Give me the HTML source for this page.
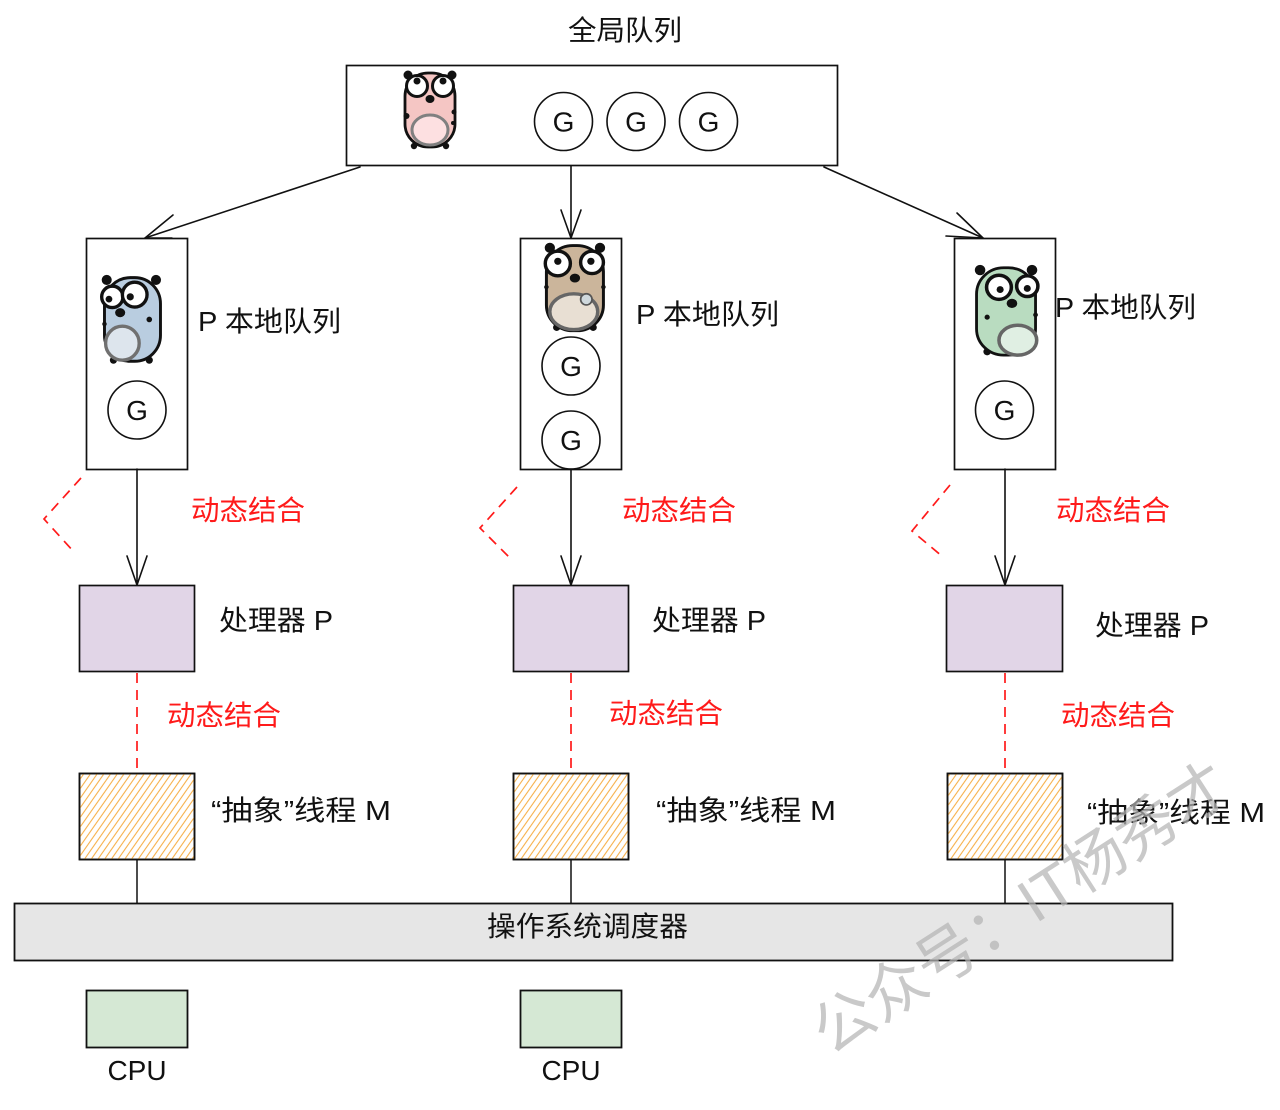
<!DOCTYPE html>
<html><head><meta charset="utf-8">
<style>
html,body{margin:0;padding:0;background:#fff;}
svg{display:block;}
text{font-family:"Liberation Sans","Noto Sans CJK SC",sans-serif;}
</style></head>
<body>
<svg width="1280" height="1110" viewBox="0 0 1280 1110" xmlns="http://www.w3.org/2000/svg">
<defs>
  <pattern id="hatch" patternUnits="userSpaceOnUse" width="5.5" height="5.5" patternTransform="rotate(35)">
    <line x1="1" y1="0" x2="1" y2="5.5" stroke="#f6b04a" stroke-width="1.1"/>
  </pattern>
  <g id="gopher-base">
    <circle cx="6" cy="7" r="4.5" fill="#111"/>
    <circle cx="50" cy="7" r="4.5" fill="#111"/>
    <circle cx="12" cy="78" r="3.2" fill="#111"/>
    <circle cx="44" cy="78" r="3.2" fill="#111"/>
  </g>
</defs>

<!-- Title -->
<text x="568" y="40" font-size="28" fill="#111" textLength="114" lengthAdjust="spacingAndGlyphs">全局队列</text>

<!-- Global queue box -->
<rect x="346.5" y="65.5" width="491" height="100" fill="#fff" stroke="#111" stroke-width="1.7"/>

<!-- pink gopher -->
<g transform="translate(402,68)">
  <use href="#gopher-base"/>
  <rect x="3" y="5" width="50" height="74" rx="23" fill="#f5c6c4" stroke="#111" stroke-width="2.8"/>
  <circle cx="15" cy="18" r="10.5" fill="#fff" stroke="#111" stroke-width="3"/>
  <circle cx="41" cy="18" r="10.5" fill="#fff" stroke="#111" stroke-width="3"/>
  <circle cx="15" cy="13" r="3.5" fill="#111"/>
  <circle cx="41" cy="13" r="3.5" fill="#111"/>
  <ellipse cx="28" cy="31" rx="4.5" ry="4" fill="#111"/>
  <circle cx="4.5" cy="48" r="3" fill="#111"/>
  <circle cx="52" cy="44" r="2.5" fill="#111"/>
  <circle cx="51" cy="55" r="2" fill="#111"/>
  <ellipse cx="28" cy="62" rx="18" ry="15" fill="#fde0e1" stroke="#808080" stroke-width="3"/>
</g>

<!-- G circles top -->
<g fill="none" stroke="#111" stroke-width="1.6">
  <circle cx="563.5" cy="121.5" r="29"/>
  <circle cx="636" cy="121.5" r="29"/>
  <circle cx="708.5" cy="121.5" r="29"/>
</g>
<g font-size="28" fill="#111" text-anchor="middle">
  <text x="563.5" y="131.5">G</text>
  <text x="636" y="131.5">G</text>
  <text x="708.5" y="131.5">G</text>
</g>

<!-- Arrows from global queue -->
<g stroke="#111" stroke-width="1.6" fill="none" stroke-linecap="round">
  <path d="M360,167 L145,238"/>
  <path d="M145,238 L173,215 M145,238 L172,238"/>
  <path d="M571,166 L571,238"/>
  <path d="M571,238 L561,210 M571,238 L581,210"/>
  <path d="M824,167 L983,238"/>
  <path d="M983,238 L957,213 M983,238 L946,236"/>
</g>

<!-- Local queue boxes -->
<g fill="#fff" stroke="#111" stroke-width="1.7">
  <rect x="86.5" y="238.5" width="101" height="231"/>
  <rect x="520.5" y="238.5" width="101" height="231"/>
  <rect x="954.5" y="238.5" width="101" height="231"/>
</g>

<!-- blue gopher -->
<g transform="translate(100,272) scale(1.12,1.13)">
  <use href="#gopher-base"/>
  <rect x="4" y="5" width="50" height="74" rx="23" fill="#b9cde0" stroke="#111" stroke-width="2.6"/>
  <circle cx="11" cy="22" r="9.5" fill="#fff" stroke="#111" stroke-width="3"/>
  <circle cx="31" cy="20" r="11" fill="#fff" stroke="#111" stroke-width="3"/>
  <circle cx="8" cy="24" r="3" fill="#111"/>
  <circle cx="27" cy="22" r="3.2" fill="#111"/>
  <ellipse cx="18" cy="36" rx="4.5" ry="4" fill="#111"/>
  <circle cx="44" cy="42" r="2.5" fill="#111"/>
  <circle cx="4" cy="46" r="2" fill="#111"/>
  <ellipse cx="20" cy="63" rx="15" ry="15" fill="#dde5ed" stroke="#707070" stroke-width="3"/>
</g>

<!-- brown gopher -->
<g transform="translate(543,240) scale(1.14,1.12)">
  <use href="#gopher-base"/>
  <rect x="3" y="5" width="50" height="76" rx="23" fill="#cbb59b" stroke="#111" stroke-width="2.6"/>
  <circle cx="13" cy="21" r="11" fill="#fff" stroke="#111" stroke-width="3"/>
  <circle cx="43" cy="20" r="10" fill="#fff" stroke="#111" stroke-width="3"/>
  <circle cx="13" cy="19" r="3.2" fill="#111"/>
  <circle cx="42" cy="19" r="3.2" fill="#111"/>
  <ellipse cx="28" cy="34" rx="4.5" ry="4" fill="#111"/>
  <circle cx="3" cy="42" r="2" fill="#111"/>
  <circle cx="53" cy="42" r="2" fill="#111"/>
  <ellipse cx="27" cy="64" rx="21" ry="16" fill="#e8dfd3" stroke="#666" stroke-width="3"/>
  <circle cx="38" cy="53" r="5" fill="#cfd8dc" stroke="#555" stroke-width="1.5"/>
</g>

<!-- green gopher -->
<g transform="translate(973,262) scale(1.18,1.15)">
  <use href="#gopher-base"/>
  <rect x="3" y="5" width="50" height="76" rx="23" fill="#b9dcc0" stroke="#111" stroke-width="2.4"/>
  <circle cx="22" cy="22" r="10.5" fill="#fff" stroke="#111" stroke-width="3"/>
  <circle cx="46" cy="21" r="9" fill="#fff" stroke="#111" stroke-width="3"/>
  <circle cx="23" cy="24" r="3" fill="#111"/>
  <circle cx="46" cy="23" r="3" fill="#111"/>
  <ellipse cx="33" cy="36" rx="4.5" ry="4" fill="#111"/>
  <circle cx="12" cy="48" r="2.2" fill="#111"/>
  <circle cx="53" cy="46" r="2" fill="#111"/>
  <ellipse cx="38" cy="68" rx="16" ry="13" fill="#e0efe3" stroke="#666" stroke-width="3"/>
</g>

<!-- G circles in local queues -->
<g fill="#fff" stroke="#111" stroke-width="1.6">
  <circle cx="137" cy="410" r="29"/>
  <circle cx="571" cy="366" r="29"/>
  <circle cx="571" cy="440" r="29"/>
  <circle cx="1004.5" cy="410" r="29"/>
</g>
<g font-size="28" fill="#111" text-anchor="middle">
  <text x="137" y="420">G</text>
  <text x="571" y="376">G</text>
  <text x="571" y="450">G</text>
  <text x="1004.5" y="420">G</text>
</g>

<!-- P local queue labels -->
<g font-size="28" fill="#111">
  <text x="198" y="331" textLength="143" lengthAdjust="spacingAndGlyphs">P 本地队列</text>
  <text x="636" y="324" textLength="143" lengthAdjust="spacingAndGlyphs">P 本地队列</text>
  <text x="1055" y="317" textLength="141" lengthAdjust="spacingAndGlyphs">P 本地队列</text>
</g>

<!-- vertical arrows to processors -->
<g stroke="#111" stroke-width="1.6" fill="none" stroke-linecap="round">
  <path d="M137,469 L137,585 M137,585 L127,556 M137,585 L147,556"/>
  <path d="M571,469 L571,585 M571,585 L561,556 M571,585 L581,556"/>
  <path d="M1005,469 L1005,585 M1005,585 L995,556 M1005,585 L1015,556"/>
</g>

<!-- red dashed chevrons -->
<g stroke="#ff1a1a" stroke-width="1.7" fill="none" stroke-dasharray="10 7">
  <path d="M81,478 L44,519 L74,552"/>
  <path d="M517,487 L480,528 L510,558"/>
  <path d="M950,485 L912,531 L943,557"/>
</g>

<!-- red labels row 1 -->
<g font-size="28" fill="#ff1a1a">
  <text x="191" y="520" textLength="114" lengthAdjust="spacingAndGlyphs">动态结合</text>
  <text x="622" y="520" textLength="114" lengthAdjust="spacingAndGlyphs">动态结合</text>
  <text x="1056" y="520" textLength="114" lengthAdjust="spacingAndGlyphs">动态结合</text>
</g>

<!-- processor boxes -->
<g fill="#e1d5e7" stroke="#111" stroke-width="1.7">
  <rect x="79.5" y="585.5" width="115" height="86"/>
  <rect x="513.5" y="585.5" width="115" height="86"/>
  <rect x="946.5" y="585.5" width="116" height="86"/>
</g>
<g font-size="28" fill="#111">
  <text x="219" y="630" textLength="114" lengthAdjust="spacingAndGlyphs">处理器 P</text>
  <text x="652" y="630" textLength="114" lengthAdjust="spacingAndGlyphs">处理器 P</text>
  <text x="1095" y="635" textLength="114" lengthAdjust="spacingAndGlyphs">处理器 P</text>
</g>

<!-- red dashed vertical -->
<g stroke="#ff1a1a" stroke-width="1.7" fill="none" stroke-dasharray="10 7">
  <path d="M137,673 L137,773"/>
  <path d="M571,673 L571,773"/>
  <path d="M1005,673 L1005,773"/>
</g>
<g font-size="28" fill="#ff1a1a">
  <text x="167" y="725" textLength="114" lengthAdjust="spacingAndGlyphs">动态结合</text>
  <text x="609" y="723" textLength="114" lengthAdjust="spacingAndGlyphs">动态结合</text>
  <text x="1061" y="725" textLength="114" lengthAdjust="spacingAndGlyphs">动态结合</text>
</g>

<!-- M boxes -->
<g stroke="#111" stroke-width="1.7">
  <rect x="79.5" y="773.5" width="115" height="86" fill="#fff"/>
  <rect x="79.5" y="773.5" width="115" height="86" fill="url(#hatch)"/>
  <rect x="513.5" y="773.5" width="115" height="86" fill="#fff"/>
  <rect x="513.5" y="773.5" width="115" height="86" fill="url(#hatch)"/>
  <rect x="947.5" y="773.5" width="115" height="86" fill="#fff"/>
  <rect x="947.5" y="773.5" width="115" height="86" fill="url(#hatch)"/>
</g>
<g font-size="28" fill="#111">
  <text x="211" y="820" textLength="180" lengthAdjust="spacingAndGlyphs">“抽象”线程 M</text>
  <text x="656" y="820" textLength="180" lengthAdjust="spacingAndGlyphs">“抽象”线程 M</text>
  <text x="1087" y="822" textLength="178" lengthAdjust="spacingAndGlyphs">“抽象”线程 M</text>
</g>

<!-- M to scheduler lines -->
<g stroke="#111" stroke-width="1.5">
  <path d="M137,860 L137,903"/>
  <path d="M571,860 L571,903"/>
  <path d="M1005,860 L1005,903"/>
</g>

<!-- scheduler -->
<rect x="14.5" y="903.5" width="1158" height="57" fill="#e6e6e6" stroke="#111" stroke-width="1.8"/>
<text x="487" y="936" font-size="28" fill="#111" textLength="201" lengthAdjust="spacingAndGlyphs">操作系统调度器</text>

<!-- CPUs -->
<g fill="#d5e8d4" stroke="#111" stroke-width="1.8">
  <rect x="86.5" y="990.5" width="101" height="57"/>
  <rect x="520.5" y="990.5" width="101" height="57"/>
</g>
<g font-size="28" fill="#111" text-anchor="middle">
  <text x="137" y="1080">CPU</text>
  <text x="571" y="1080">CPU</text>
</g>

<!-- watermark -->
<text x="0" y="0" font-size="61" fill="#b4b4b4" fill-opacity="0.72" transform="translate(830,1056) rotate(-32.7)">公众号：IT杨秀才</text>
</svg>
</body></html>
